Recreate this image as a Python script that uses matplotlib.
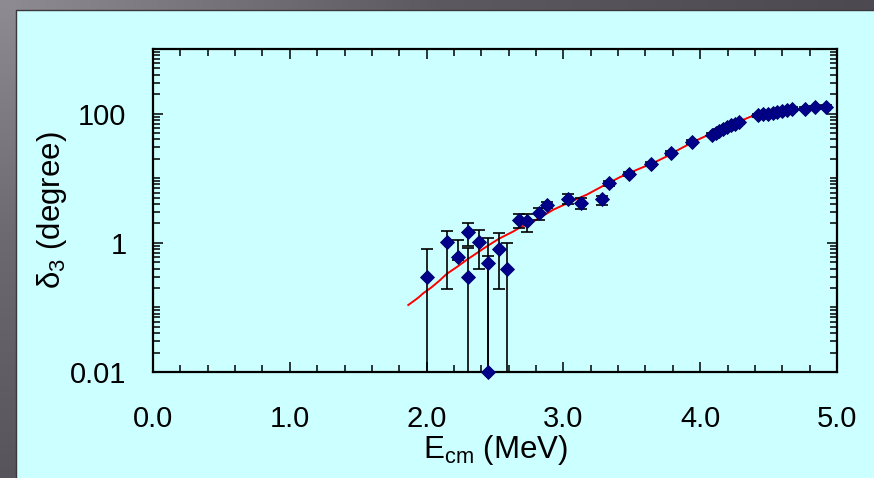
import matplotlib
matplotlib.use("Agg")
import matplotlib.pyplot as plt
import numpy as np
from matplotlib.ticker import FixedLocator, NullFormatter, FixedFormatter

plt.rcParams['font.family'] = ['Liberation Sans', 'DejaVu Sans']
plt.rcParams['mathtext.fontset'] = 'custom'
plt.rcParams['mathtext.rm'] = 'Liberation Sans'
plt.rcParams['mathtext.it'] = 'Liberation Sans:italic'

# Phase shift data: energy (MeV), delta_3 (degree), lower / upper error bounds
energy = [2.00, 2.15, 2.23, 2.30, 2.30, 2.38, 2.45, 2.45, 2.53, 2.59,
          2.675, 2.736, 2.824, 2.883, 3.034, 3.126, 3.285, 3.331, 3.480, 3.640,
          3.789, 3.938, 4.083, 4.112, 4.141, 4.170, 4.199, 4.228, 4.257, 4.285,
          4.425, 4.460, 4.495, 4.530, 4.565, 4.600, 4.635, 4.669, 4.766, 4.837,
          4.918]
delta3 = [0.294, 1.03, 0.61, 1.47, 0.294, 1.03, 0.495, 0.010, 0.81, 0.39,
          2.27, 2.14, 2.89, 3.84, 4.75, 4.12, 4.81, 8.3, 11.7, 16.6,
          24.6, 36.5, 47.2, 50.7, 54.5, 58.5, 62.8, 66.3, 70.0, 73.3,
          94.0, 97.0, 100.0, 103.0, 106.0, 110.0, 114.0, 118.0, 119.0, 126.0,
          127.0]
delta3_lo = [0.001, 0.195, 0.55, 0.90, 0.001, 0.39, 0.001, 0.001, 0.195, 0.001,
             1.69, 1.45, 2.25, 3.40, 4.03, 3.31, 3.85, 7.7, 10.9, 15.5,
             23.0, 34.0, 44.5, 47.8, 51.5, 55.2, 59.3, 62.6, 66.1, 69.2,
             89.0, 92.0, 95.0, 97.5, 100.5, 104.0, 108.0, 111.5, 112.5, 119.0,
             120.0]
delta3_hi = [0.81, 1.52, 1.09, 1.99, 0.83, 1.59, 1.20, 0.62, 1.43, 1.01,
             2.84, 2.84, 3.49, 4.30, 5.60, 4.99, 5.37, 8.9, 12.5, 17.7,
             26.2, 39.0, 50.0, 53.6, 57.6, 61.8, 66.3, 70.0, 73.9, 77.4,
             99.0, 102.0, 105.0, 108.5, 111.5, 116.0, 120.0, 124.5, 125.5, 133.0,
             134.0]

# Model curve
fit_energy = [1.866, 1.905, 1.940, 1.976, 2.030, 2.090, 2.147, 2.220, 2.293, 2.370,
              2.439, 2.530, 2.634, 2.683, 2.780, 2.926, 3.050, 3.170, 3.290, 3.414,
              3.540, 3.657, 3.760, 3.852, 3.950, 4.047, 4.200, 4.364, 4.480, 4.583,
              4.760, 4.949]
fit_delta3 = [0.109, 0.125, 0.142, 0.166, 0.200, 0.255, 0.330, 0.420, 0.544, 0.700,
              0.877, 1.16, 1.50, 1.73, 2.14, 3.25, 4.30, 5.55, 7.60, 10.4,
              13.6, 17.2, 22.0, 28.4, 36.5, 45.6, 63.0, 88.9, 100.0, 108.6,
              120.0, 129.7]

xticks = [0.0, 1.0, 2.0, 3.0, 4.0, 5.0]
xticklabels = ['0.0', '1.0', '2.0', '3.0', '4.0', '5.0']
yticks = [0.01, 1, 100]
yticklabels = ['0.01', '1', '100']

W, H = 874, 478
fig = plt.figure(figsize=(W / 100, H / 100), dpi=100)
fig.patch.set_facecolor('#CCFFFF')

# Gray gradient frame along the top and left edges
frame = fig.add_axes([0, 0, 1, 1], zorder=-5)
frame.set_xlim(0, W)
frame.set_ylim(H, 0)
frame.axis('off')
top_grad = np.linspace(0, 1, 256)[None, :]
frame.imshow(top_grad, extent=[0, W, 10, 0], cmap=matplotlib.colors.LinearSegmentedColormap.from_list(
    'topg', ['#8e8b93', '#5c5960', '#4c4950']), aspect='auto', interpolation='bilinear')
left_grad = np.linspace(0, 1, 256)[:, None]
frame.imshow(left_grad, extent=[0, 16, H, 0], cmap=matplotlib.colors.LinearSegmentedColormap.from_list(
    'leftg', ['#8e8b93', '#6c6970', '#57545b']), aspect='auto', interpolation='bilinear')
frame.plot([16, 16, W], [H, 10, 10], color='#3a383d', lw=1.0)
frame.set_xlim(0, W)
frame.set_ylim(H, 0)

x0, x1, ytop, ybot = 153, 837, 49, 372
ax = fig.add_axes([x0 / W, (H - ybot) / H, (x1 - x0) / W, (ybot - ytop) / H])
ax.set_facecolor('none')
ax.set_yscale('log')
ax.set_xlim(0, 5)
ax.set_ylim(0.01, 1000)

ax.plot(fit_energy, fit_delta3, color='#FF0000', lw=1.4, zorder=3)

d = np.array(delta3)
yerr = [d - np.array(delta3_lo), np.array(delta3_hi) - d]
ax.errorbar(energy, delta3, yerr=yerr, fmt='none', ecolor='black',
            elinewidth=1.2, capsize=4.5, capthick=1.2, zorder=4)
ax.plot(energy, delta3, linestyle='none', marker='D', markersize=7.5,
        color='#00008B', markeredgecolor='#00006A', markeredgewidth=0.6,
        zorder=5, clip_on=False)

# Axes styling
for s in ax.spines.values():
    s.set_linewidth(1.6)
    s.set_color('black')

ax.xaxis.set_major_locator(FixedLocator(xticks))
ax.xaxis.set_major_formatter(FixedFormatter(xticklabels))
ax.xaxis.set_minor_locator(FixedLocator([i * 0.2 for i in range(26)]))

minor_y = [k * 10.0 ** e for e in range(-2, 3) for k in range(1, 10)]
minor_y = [v for v in minor_y if all(abs(v - t) / t > 1e-6 for t in yticks) and v <= 1000]
ax.yaxis.set_major_locator(FixedLocator(yticks))
ax.yaxis.set_major_formatter(FixedFormatter(yticklabels))
ax.yaxis.set_minor_locator(FixedLocator(minor_y))
ax.yaxis.set_minor_formatter(NullFormatter())

ax.tick_params(which='both', direction='in', top=True, right=True, width=1.1, color='black')
ax.tick_params(which='major', length=7)
ax.tick_params(which='minor', length=5)
ax.tick_params(axis='x', which='major', labelsize=21, pad=24)
ax.tick_params(axis='y', which='major', labelsize=21, pad=19)

ax.set_xlabel(r'E$_{\mathrm{cm}}$ (MeV)', fontsize=22.5, labelpad=0)
ax.set_ylabel(r'$\mathrm{\delta}_{\mathrm{3}}$ (degree)', fontsize=22.5, labelpad=1)

fig.savefig('out.png', dpi=100, facecolor=fig.get_facecolor())
